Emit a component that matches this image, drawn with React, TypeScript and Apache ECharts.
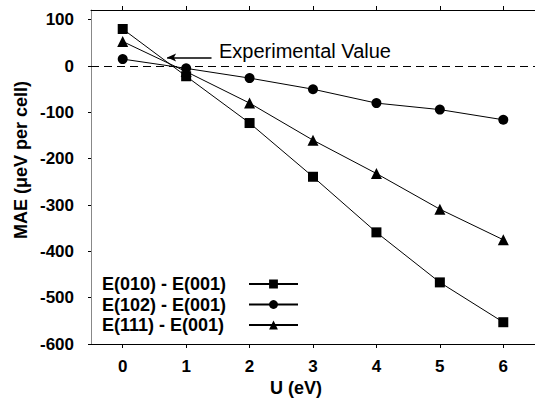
import React, { useEffect, useRef } from "react";
import * as echarts from "echarts";

const uValues = [0, 1, 2, 3, 4, 5, 6];
const yTicks = [-600, -500, -400, -300, -200, -100, 0, 100];
const seriesNames = ["E(010) - E(001)", "E(102) - E(001)", "E(111) - E(001)"];
const e010 = [80, -22, -123, -239, -359, -467, -553];
const e102 = [15, -5, -26, -50, -80, -94, -116];
const e111 = [53, -12, -80, -160, -232, -309, -375];
const experimentalValue = 0;

const FONT = "'Liberation Sans', Arial, Helvetica, sans-serif";

export default function App() {
  const ref = useRef<HTMLDivElement>(null);
  useEffect(() => {
    if (!ref.current) return;
    const chart = echarts.init(ref.current, undefined, { renderer: "svg" });
    const mk = (vals: number[]) => vals.map((v, i) => [uValues[i], v]);
    const lineStyle = { color: "#000", width: 1 };
    const option: any = {
      animation: false,
      backgroundColor: "#fff",
      textStyle: { fontFamily: FONT },
      grid: { left: 91, top: 10, width: 446, height: 334, containLabel: false },
      xAxis: [
        {
          type: "value",
          position: "bottom",
          min: -0.5,
          max: 6.5,
          axisLine: { show: true, onZero: false, lineStyle: { color: "#000", width: 1 } },
          axisTick: { show: true, length: 4, customValues: uValues, lineStyle: { color: "#000" } },
          axisLabel: {
            customValues: uValues,
            margin: 14,
            color: "#000",
            fontSize: 17,
            fontWeight: "bold",
            fontFamily: FONT,
          },
          splitLine: { show: false },
        },
        {
          type: "value",
          position: "top",
          min: -0.5,
          max: 6.5,
          axisLine: { show: true, onZero: false, lineStyle: { color: "#000", width: 1 } },
          axisTick: { show: true, length: 4, customValues: uValues, lineStyle: { color: "#000" } },
          axisLabel: { show: false },
          splitLine: { show: false },
        },
      ],
      yAxis: {
        type: "value",
        min: -600,
        max: 121,
        axisLine: { show: true, onZero: false, lineStyle: { color: "#888", width: 1 } },
        axisTick: { show: true, length: 3, customValues: yTicks, lineStyle: { color: "#000" } },
        axisLabel: {
          customValues: yTicks,
          margin: 17,
          color: "#000",
          fontSize: 17,
          fontWeight: "bold",
          fontFamily: FONT,
        },
        splitLine: { show: false },
      },
      legend: {
        orient: "vertical",
        left: 97,
        top: 270,
        align: "right",
        itemWidth: 49,
        itemHeight: 11,
        itemGap: 2.5,
        formatter: (name: string) => `{t|${name}}`,
        textStyle: {
          color: "#000",
          fontSize: 18,
          fontWeight: "bold",
          fontFamily: FONT,
          rich: {
            t: {
              width: 142,
              align: "left",
              color: "#000",
              fontSize: 18,
              fontWeight: "bold",
              fontFamily: FONT,
              lineHeight: 20,
            },
          },
        },
        data: seriesNames,
      },
      series: [
        {
          name: seriesNames[0],
          type: "line",
          data: mk(e010),
          symbol: "rect",
          symbolSize: 10,
          itemStyle: { color: "#000" },
          lineStyle,
          z: 3,
          markLine: {
            silent: true,
            symbol: ["none", "none"],
            label: { show: false },
            lineStyle: { color: "#000", width: 1, type: [8, 5] },
            data: [{ yAxis: experimentalValue }],
          },
        },
        {
          name: seriesNames[1],
          type: "line",
          data: mk(e102),
          symbol: "circle",
          symbolSize: 10,
          itemStyle: { color: "#000" },
          lineStyle,
          z: 3,
        },
        {
          name: seriesNames[2],
          type: "line",
          data: mk(e111),
          symbol: "triangle",
          symbolSize: 11,
          itemStyle: { color: "#000" },
          lineStyle,
          z: 3,
          markLine: {
            silent: true,
            symbol: ["arrow", "none"],
            symbolSize: [6, 9],
            label: { show: false },
            lineStyle: { color: "#000", width: 1.5, type: "solid" },
            data: [[{ coord: [0.7, 18.5] }, { coord: [1.4, 18.5] }]],
          },
        },
      ],
      graphic: [
        {
          type: "text",
          left: 219,
          top: 41,
          style: { text: "Experimental Value", fontSize: 20, fontFamily: FONT, fill: "#000" },
        },
        {
          type: "text",
          x: 296,
          y: 388,
          style: {
            text: "U (eV)",
            fontSize: 18,
            fontWeight: "bold",
            fontFamily: FONT,
            fill: "#000",
            align: "center",
            verticalAlign: "middle",
          },
        },
        {
          type: "text",
          x: 21,
          y: 160,
          rotation: Math.PI / 2,
          style: {
            text: "MAE (μeV per cell)",
            fontSize: 18,
            fontWeight: "bold",
            fontFamily: FONT,
            fill: "#000",
            align: "center",
            verticalAlign: "middle",
          },
        },
      ],
    };
    chart.setOption(option);
    return () => chart.dispose();
  }, []);
  return <div ref={ref} style={{ width: 535, height: 400, position: "absolute", left: 0, top: 0 }} />;
}
